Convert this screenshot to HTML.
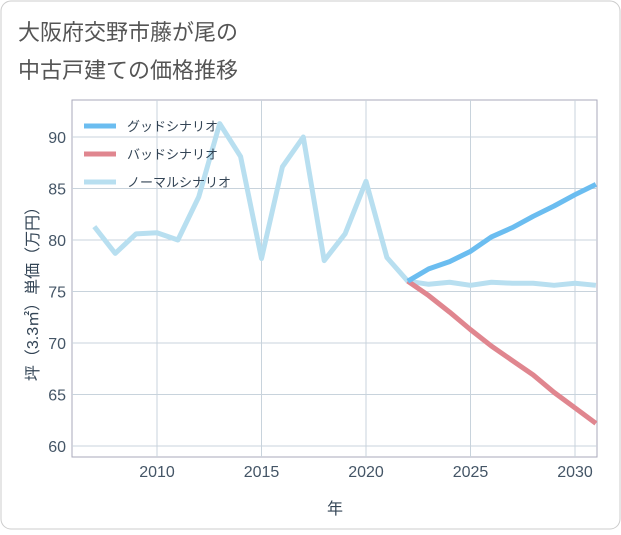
<!DOCTYPE html>
<html><head><meta charset="utf-8"><style>
body{margin:0;background:#fff;}
#wrap{position:relative;width:621px;height:530px;font-family:"Liberation Sans","Noto Sans CJK JP",sans-serif;}
</style></head><body>
<div id="wrap">
<svg id="chart" width="621" height="530">
<rect x="1" y="1" width="619" height="528" rx="10" fill="#fff" stroke="#ccc"/>
<text x="18" y="40" font-size="22" fill="#555">大阪府交野市藤が尾の</text>
<text x="18" y="78" font-size="22" fill="#555">中古戸建ての価格推移</text>
<g id="grid"></g><g id="series"></g><g id="legend"></g>
<text x="335" y="514" font-size="16" fill="#345" text-anchor="middle">年</text>
<text transform="translate(38,290) rotate(-90)" font-size="16" fill="#345" text-anchor="middle">坪（3.3㎡）単価（万円）</text>
</svg></div>
<script>
const years=[2007,2008,2009,2010,2011,2012,2013,2014,2015,2016,2017,2018,2019,2020,2021,2022,2023,2024,2025,2026,2027,2028,2029,2030,2031];
const normalVals=[81.3,78.7,80.6,80.7,80.0,84.2,91.3,88.1,78.2,87.1,90.0,78.0,80.6,85.7,78.3,76.0,75.7,75.9,75.6,75.9,75.8,75.8,75.6,75.8,75.6];
const futureYears=[2022,2023,2024,2025,2026,2027,2028,2029,2030,2031];
const goodVals=[76.0,77.2,77.9,78.9,80.3,81.2,82.3,83.3,84.4,85.4];
const badVals=[76.0,74.6,73.0,71.3,69.7,68.3,66.9,65.2,63.7,62.2];
const yTicks=[60,65,70,75,80,85,90];
const xTicks=[2010,2015,2020,2025,2030];
const L=72,R=597,T=100,B=457;
const x=y=>157+(y-2010)*20.9;
const yv=v=>446-(v-60)*10.3;
const NS='http://www.w3.org/2000/svg';
function mk(p,t,a){const e=document.createElementNS(NS,t);for(const k in a)e.setAttribute(k,a[k]);p.appendChild(e);return e;}
const g=document.getElementById('grid');
const frame=mk(g,'rect',{x:L,y:T,width:R-L,height:B-T,fill:'none',stroke:'#aab'});


yTicks.forEach(v=>{const l=mk(g,'line',{x1:L,x2:R,y1:yv(v),y2:yv(v),stroke:'#c8d3dc'});


const t=mk(g,'text',{x:L-6,y:yv(v)+6,'font-size':16,fill:'#456','text-anchor':'end'});t.textContent=v;

});
xTicks.forEach(v=>{const l=mk(g,'line',{x1:x(v),x2:x(v),y1:T,y2:B,stroke:'#c8d3dc'});


const t=mk(g,'text',{x:x(v),y:B+20,'font-size':16,fill:'#456','text-anchor':'middle'});t.textContent=v;

});
const s=document.getElementById('series');
function line(xs,vs,c,n){const p=mk(s,'polyline',{points:xs.map((yr,i)=>x(yr)+','+yv(vs[i])).join(' '),fill:'none',stroke:c,'stroke-width':5,'stroke-linejoin':'round'});

}
line(years,normalVals,'#b8dff0','normal-scenario-line');
line(futureYears,badVals,'#e0868f','bad-scenario-line');
line(futureYears,goodVals,'#6bbdf0','good-scenario-line');
const lg=document.getElementById('legend');
[['グッドシナリオ','#6bbdf0'],['バッドシナリオ','#e0868f'],['ノーマルシナリオ','#b8dff0']].forEach((d,i)=>{
const yy=126+i*28;
const l=mk(lg,'line',{x1:84,x2:116,y1:yy,y2:yy,stroke:d[1],'stroke-width':5});


const t=mk(lg,'text',{x:127,y:yy+5,'font-size':13,fill:'#345'});t.textContent=d[0];

});
</script></body></html>
